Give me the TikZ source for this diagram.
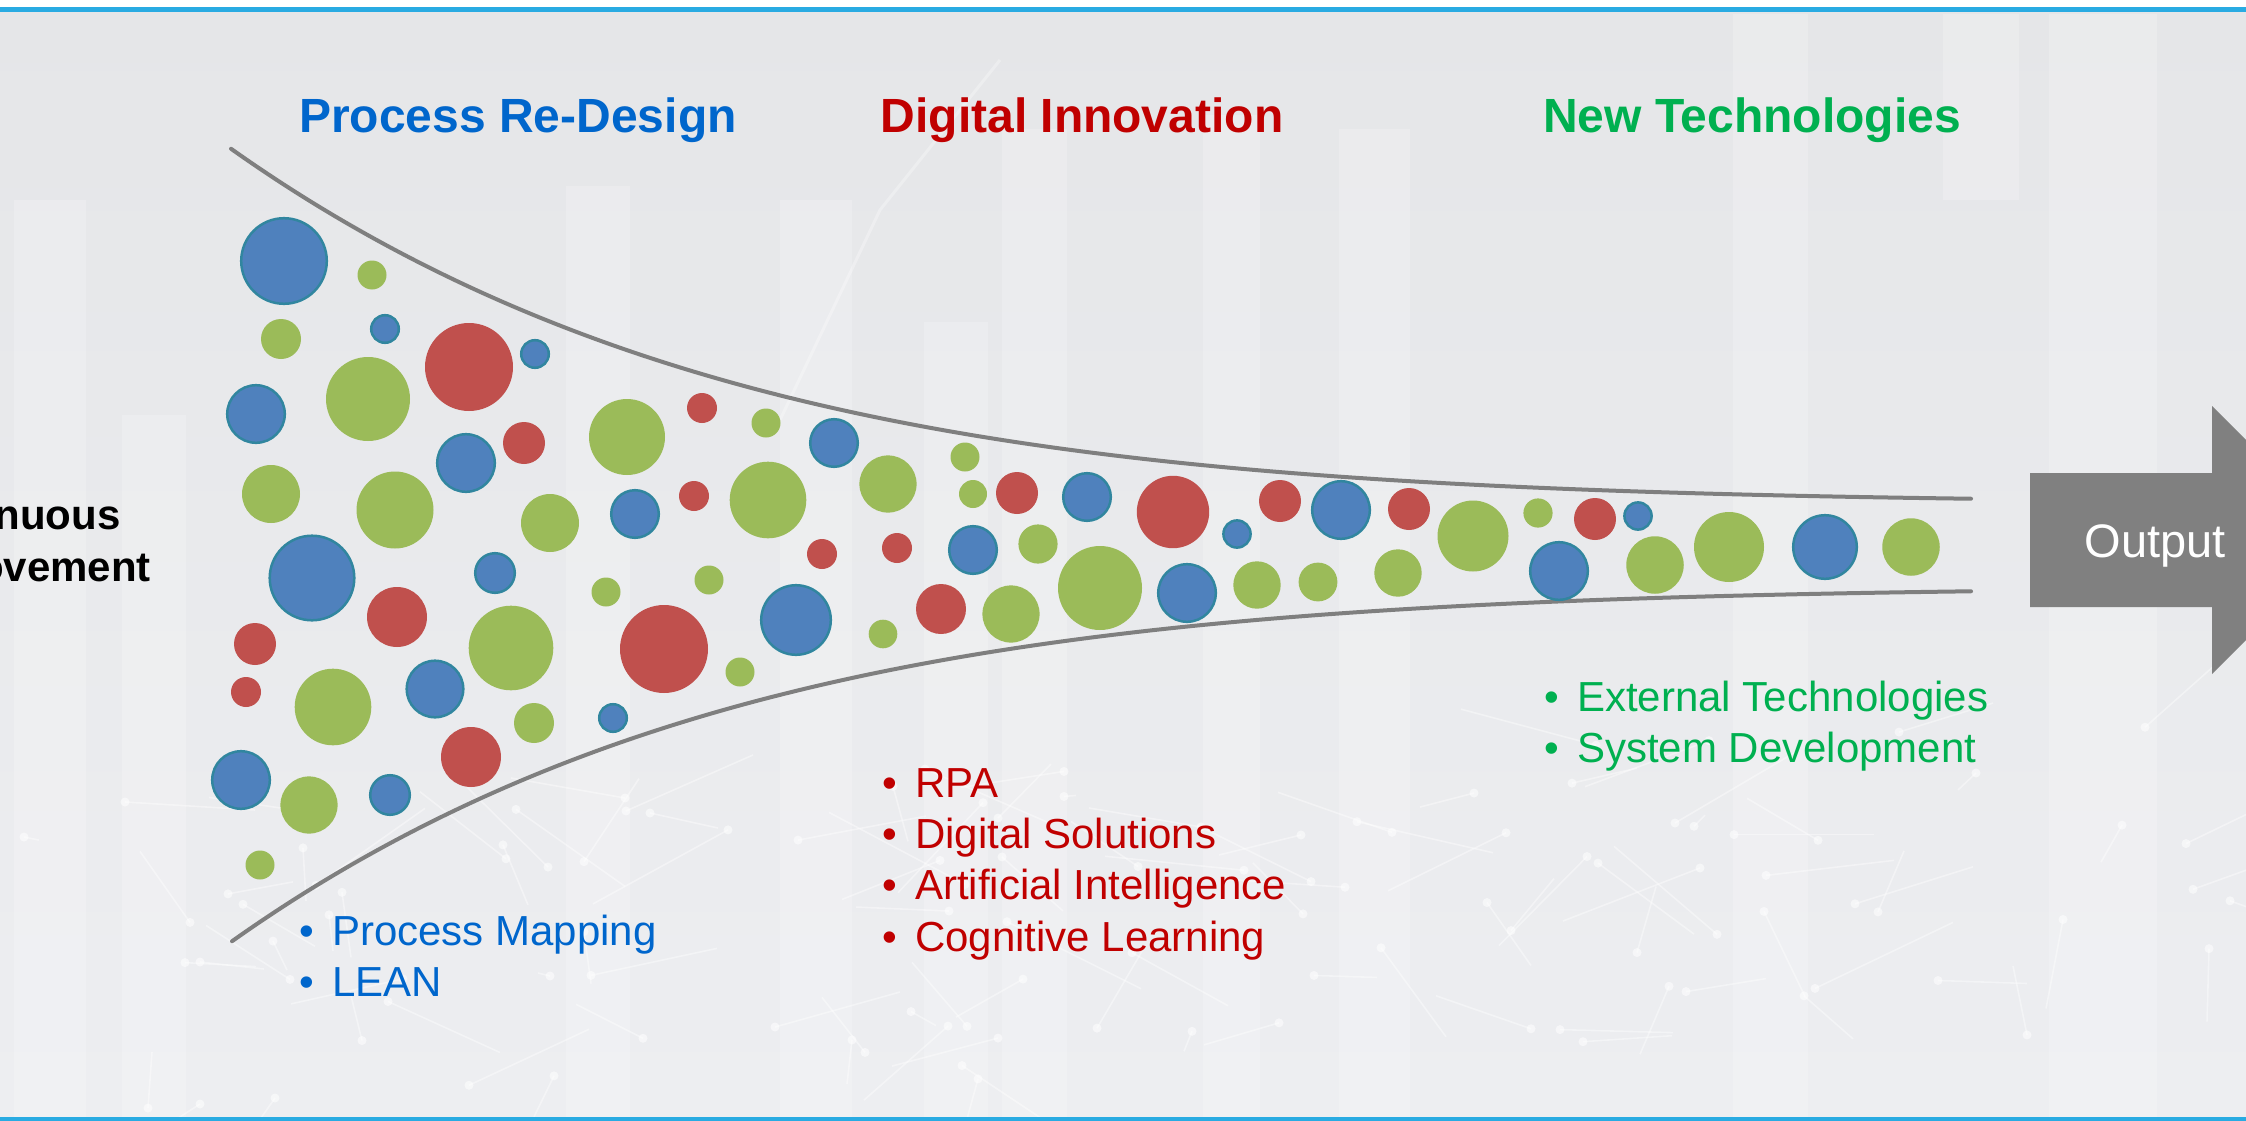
\documentclass[tikz,border=0pt]{standalone}
\usepackage{fontspec}
\setmainfont{Liberation Sans}
\definecolor{cblue}{HTML}{4F81BD}
\definecolor{cteal}{HTML}{31869F}
\definecolor{cred}{HTML}{C0504D}
\definecolor{cgreen}{HTML}{9BBB59}
\definecolor{tblue}{HTML}{0066CC}
\definecolor{tred}{HTML}{C00000}
\definecolor{tgreen}{HTML}{00B050}
\definecolor{fgray}{HTML}{7F7F7F}
\definecolor{agray}{HTML}{808080}
\definecolor{lineblue}{HTML}{29ABE2}
\definecolor{bgtop}{HTML}{E5E6E8}
\definecolor{bgbot}{HTML}{EDEEF1}
\begin{document}
\begin{tikzpicture}[x=1pt,y=-1pt,
  bc/.style={fill=cblue, draw=cteal, line width=2.5pt},
  rc/.style={fill=cred},
  gc/.style={fill=cgreen},
  funnel/.style={draw=fgray, line width=4pt, line cap=round},
  ttl/.style={font=\bfseries\fontsize{48}{56}\selectfont, anchor=base, inner sep=0},
  bul/.style={font=\fontsize{42}{51}\selectfont, anchor=base west, inner sep=0},
  bar/.style={fill=white, opacity=0.2}
]
\useasboundingbox (0,0) rectangle (2246,1121);
\clip (0,0) rectangle (2246,1121);
% background
\shade[top color=bgtop, bottom color=bgbot] (0,0) rectangle (2246,1121);
\fill[bar] (14,200) rectangle (86,1121);
\fill[bar] (122,415) rectangle (186,1121);
\fill[bar] (566,186) rectangle (630,1121);
\fill[bar] (780,200) rectangle (852,1121);
\fill[bar] (924,322) rectangle (988,1121);
\fill[bar] (1002,129) rectangle (1067,1121);
\fill[bar] (1203,115) rectangle (1260,1121);
\fill[bar] (1339,129) rectangle (1410,1121);
\fill[bar] (1733,14) rectangle (1808,1121);
\fill[bar] (1943,14) rectangle (2019,200);
\fill[bar] (2049,14) rectangle (2157,1121);
\draw[white, opacity=0.3, line width=3pt] (780,420) -- (880,210) -- (1000,60);
% network decoration
\pgfmathsetseed{12}
\foreach \k in {1,...,110}{
  \pgfmathsetmacro\xa{random(0,2246)}
  \pgfmathsetmacro\ya{800+random(0,320)-0.04*\xa}
  \pgfmathsetmacro\xb{\xa+random(-140,140)}
  \pgfmathsetmacro\yb{\ya+random(-90,90)}
  \draw[white, opacity=0.4, line width=1.6pt] (\xa,\ya) -- (\xb,\yb);
  \fill[white, opacity=0.55] (\xa,\ya) circle (4.5);
}
% frame lines
\fill[white] (0,0) rectangle (2246,7);
\fill[lineblue] (0,7) rectangle (2246,12);
\fill[lineblue] (0,1117) rectangle (2246,1121);
% funnel
\draw[funnel] plot[domain=231:1971, samples=140, smooth] (\x, {503-exp(5.87-(\x-231)/500-0.31*((\x-231)/1000)^2)});
\draw[funnel] plot[domain=232:1971, samples=140, smooth] (\x, {587+exp(5.87-(\x-232)/500-0.31*((\x-232)/1000)^2)});
% circles
\foreach \x/\y/\r in {284/261/44, 385/329/15, 535/354/15, 256/414/30, 466/463/30, 635/514/25, 312/578/43.5, 495/573/21, 435/689/29.5, 796/620/36, 613/718/15, 241/780/30, 390/795/21, 834/443/25, 1087/497/25, 1237/534/14.8, 1341/510/30, 973/550/25, 1187/593/30, 1638/516/14.8, 1559/571/30, 1825/547/33}
  \draw[bc] (\x,\y) circle (\r-1.2);
\foreach \x/\y/\r in {469/367/44, 702/408/15, 524/443/21, 694/496/15, 397/617/30, 255/644/21, 246/692/15, 664/649/44, 471/757/30, 1017/493/21, 1173/512/36.2, 1280/501/21, 1409/509/21, 822/554/15, 897/548/15, 941/609/25, 1595/519/21}
  \fill[rc] (\x,\y) circle (\r);
\foreach \x/\y/\r in {372/275/14.5, 281/339/20, 368/399/42, 627/437/38, 766/423/14.5, 271/494/29, 395/510/38.5, 550/523/29, 768/500/38.3, 606/592/14.5, 709/580/14.5, 333/707/38.3, 511/648/42.3, 740/672/14.5, 534/723/20, 309/805/28.6, 260/865/14.5, 888/484/28.6, 965/457/14.5, 973/494/14, 1473/536/35.5, 1038/544/19.6, 883/634/14.3, 1011/614/28.6, 1100/588/42, 1257/585/23.7, 1318/582/19.4, 1398/573/23.7, 1538/513/14.6, 1655/565/28.75, 1729/547/35, 1911/547/28.75}
  \fill[gc] (\x,\y) circle (\r);
% titles
\node[ttl, text=tblue] (prtitle) at (518,132) {Process Re-Design};
\node[ttl, text=tred] (dititle) at (1082,132) {Digital Innovation};
\node[ttl, text=tgreen] (nttitle) at (1752,132) {New Technologies};
% left label
\node[font=\bfseries\fontsize{42}{52}\selectfont, anchor=base west, inner sep=0] (ci1) at (-113,529) {Continuous};
\node[font=\bfseries\fontsize{42}{52}\selectfont, anchor=base west, inner sep=0] (ci2) at (-113,581) {Improvement};
% bullets
\node[bul, text=tblue] (pm1) at (299,945) {\makebox[33pt][l]{•}Process Mapping};
\node[bul, text=tblue] (pm2) at (299,996) {\makebox[33pt][l]{•}LEAN};
\node[bul, text=tred] (di1) at (882,797) {\makebox[33pt][l]{•}RPA};
\node[bul, text=tred] (di2) at (882,848) {\makebox[33pt][l]{•}Digital Solutions};
\node[bul, text=tred] (di3) at (882,899) {\makebox[33pt][l]{•}Artificial Intelligence};
\node[bul, text=tred] (di4) at (882,951) {\makebox[33pt][l]{•}Cognitive Learning};
\node[bul, text=tgreen] (nt1) at (1544,711) {\makebox[33pt][l]{•}External Technologies};
\node[bul, text=tgreen] (nt2) at (1544,762) {\makebox[33pt][l]{•}System Development};
% output arrow
\fill[agray] (2030,473) -- (2212,473) -- (2212,406) -- (2346,540) -- (2212,674) -- (2212,607) -- (2030,607) -- cycle;
\node[font=\fontsize{47}{56}\selectfont, text=white, anchor=base, inner sep=0] (output) at (2155,557) {Output};
\end{tikzpicture}
\end{document}
